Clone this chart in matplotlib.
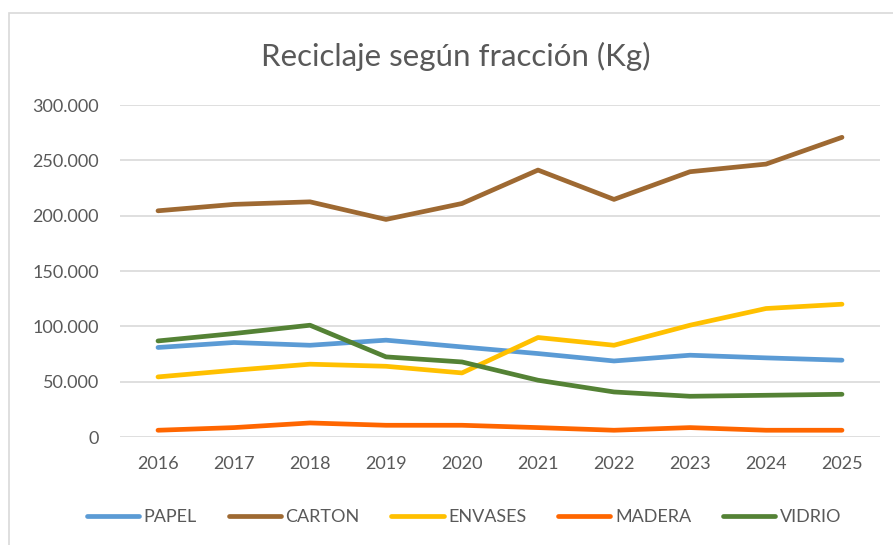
import matplotlib
matplotlib.use("Agg")
import matplotlib.pyplot as plt
from matplotlib.patches import Rectangle
from matplotlib.ticker import FuncFormatter, MultipleLocator

years = ["2016", "2017", "2018", "2019", "2020", "2021", "2022", "2023", "2024", "2025"]
papel = [80900, 85400, 82900, 87500, 81400, 75400, 68700, 73900, 71500, 69400]
carton = [204400, 210200, 212500, 196600, 211000, 241200, 214700, 239700, 246600, 270800]
envases = [54300, 60300, 65800, 63900, 57900, 89900, 82900, 101000, 116100, 120000]
madera = [6100, 8500, 12700, 10600, 10600, 8500, 6100, 8500, 6100, 6100]
vidrio = [86800, 93500, 101000, 72400, 67800, 51300, 40700, 36800, 37700, 38600]

series = [
    ("PAPEL", papel, "#5B9BD5"),
    ("CARTON", carton, "#9E6932"),
    ("ENVASES", envases, "#FFC000"),
    ("MADERA", madera, "#FF6600"),
    ("VIDRIO", vidrio, "#548235"),
]

plt.rcParams['font.family'] = ['Lato', 'DejaVu Sans']
txt = "#595959"

fig = plt.figure(figsize=(8.93, 5.45), dpi=100)
fig.patch.set_facecolor("white")
# chart border
fig.patches.append(Rectangle((8.5 / 893, -0.05), 1.1, (545 - 12.5) / 545 + 0.05,
                             transform=fig.transFigure, fill=False,
                             edgecolor="#D9D9D9", linewidth=1.2))

ax = fig.add_axes([120 / 893, (545 - 437) / 545, 760 / 893, 332 / 545])
x = list(range(len(years)))
for name, vals, col in series:
    ax.plot(x, vals, color=col, linewidth=3.4, solid_capstyle="round",
            solid_joinstyle="round", label=name)

ax.set_xlim(-0.5, len(years) - 0.5)
ax.set_ylim(0, 300000)
ax.yaxis.set_major_locator(MultipleLocator(50000))
ax.yaxis.set_major_formatter(FuncFormatter(lambda v, p: "0" if v == 0 else f"{int(v):,}".replace(",", ".")))
ax.set_xticks(x)
ax.set_xticklabels(years)
ax.grid(axis="y", color="#D9D9D9", linewidth=1.2)
ax.set_axisbelow(True)
for s in ax.spines.values():
    s.set_visible(False)
ax.tick_params(axis="both", length=0, labelsize=13, labelcolor=txt)
ax.tick_params(axis="y", pad=15)
ax.tick_params(axis="x", pad=14)

fig.text(456 / 893, 1 - 56 / 545, "Reciclaje según fracción (Kg)", ha="center", va="center",
         fontsize=22.5, color=txt)

leg = fig.legend(loc="center", bbox_to_anchor=(464 / 893, 1 - 517 / 545), ncol=5,
                 frameon=False, fontsize=13, handlelength=2.9, columnspacing=1.75,
                 handletextpad=0.25, labelcolor=txt)

fig.savefig("out.png", dpi=100)
